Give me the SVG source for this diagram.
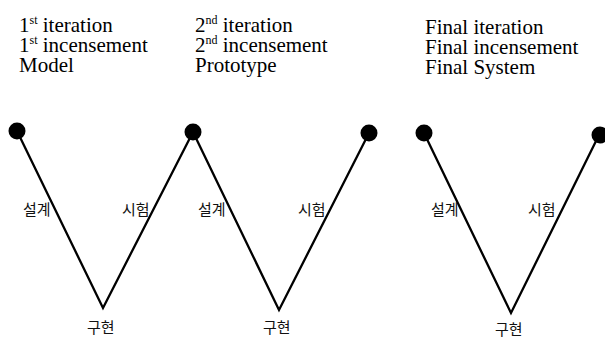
<svg xmlns="http://www.w3.org/2000/svg" width="605" height="338" viewBox="0 0 605 338">
<style>
text.hd{font-family:'Liberation Serif','DejaVu Serif',serif;font-size:21px;fill:#000}
tspan.sup{font-size:12px}
text.kr{font-family:'Noto Sans CJK KR','Noto Sans',sans-serif;font-size:15px;fill:#111}
.ln{stroke:#000;stroke-width:2.3;fill:none;stroke-linejoin:miter}
.dot{fill:#000}
</style>
<rect width="605" height="338" fill="#fff"/>
<g id="header1">
<text class="hd" x="19" y="32">1<tspan class="sup" dy="-8">st</tspan><tspan dy="8"> iteration</tspan></text>
<text class="hd" x="19" y="52">1<tspan class="sup" dy="-8">st</tspan><tspan dy="8"> incensement</tspan></text>
<text class="hd" x="19" y="72">Model</text>
</g>
<g id="header2">
<text class="hd" x="195" y="32">2<tspan class="sup" dy="-8">nd</tspan><tspan dy="8"> iteration</tspan></text>
<text class="hd" x="195" y="52">2<tspan class="sup" dy="-8">nd</tspan><tspan dy="8"> incensement</tspan></text>
<text class="hd" x="195" y="72">Prototype</text>
</g>
<g id="header3">
<text class="hd" x="425" y="34">Final iteration</text>
<text class="hd" x="425" y="54">Final incensement</text>
<text class="hd" x="425" y="74">Final System</text>
</g>
<g id="connectors">
<polyline class="ln" points="17,131 103,308 193,132"/>
<polyline class="ln" points="193,132 279,310 369,133"/>
<polyline class="ln" points="424,133 511,313 599,135"/>
</g>
<g id="node-start1"><circle class="dot" cx="17" cy="131" r="8.5"/></g>
<g id="node-mid1"><circle class="dot" cx="193" cy="132" r="8.5"/></g>
<g id="node-end2"><circle class="dot" cx="369" cy="133" r="8.5"/></g>
<g id="node-start3"><circle class="dot" cx="424" cy="133" r="8.5"/></g>
<g id="node-end3"><circle class="dot" cx="600" cy="135" r="8.5"/></g>
<g id="labels1">
<text class="kr" x="23" y="215">설계</text>
<text class="kr" x="122" y="215">시험</text>
<text class="kr" x="87" y="333">구현</text>
</g>
<g id="labels2">
<text class="kr" x="198" y="215">설계</text>
<text class="kr" x="298" y="215">시험</text>
<text class="kr" x="263" y="333">구현</text>
</g>
<g id="labels3">
<text class="kr" x="431" y="215">설계</text>
<text class="kr" x="528" y="215">시험</text>
<text class="kr" x="495" y="335">구현</text>
</g>
</svg>
